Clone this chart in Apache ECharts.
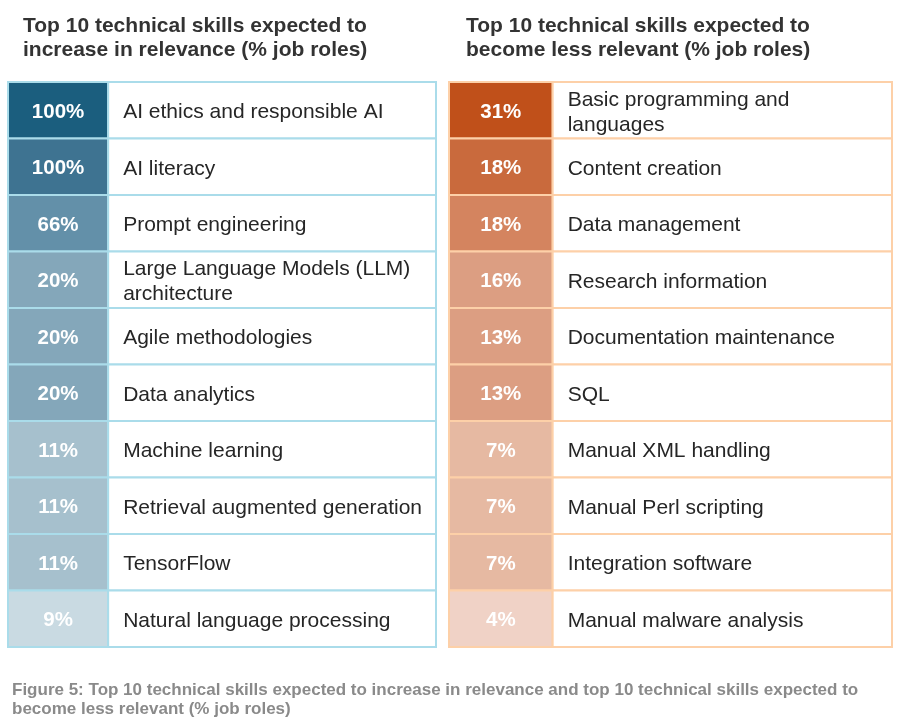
<!DOCTYPE html>
<html>
<head>
<meta charset="utf-8">
<script src="https://cdn.jsdelivr.net/npm/echarts@6/dist/echarts.min.js"></script>
<style>
html,body{margin:0;padding:0;background:#fff;}
#chart{width:908px;height:722px;}
</style>
</head>
<body>
<div id="chart"></div>
<script>
// ---- Data ----
const increaseSkills = [
  "AI ethics and responsible AI",
  "AI literacy",
  "Prompt engineering",
  "Large Language Models (LLM)\narchitecture",
  "Agile methodologies",
  "Data analytics",
  "Machine learning",
  "Retrieval augmented generation",
  "TensorFlow",
  "Natural language processing"
];
const increaseValues = [100, 100, 66, 20, 20, 20, 11, 11, 11, 9];

const decreaseSkills = [
  "Basic programming and\nlanguages",
  "Content creation",
  "Data management",
  "Research information",
  "Documentation maintenance",
  "SQL",
  "Manual XML handling",
  "Manual Perl scripting",
  "Integration software",
  "Manual malware analysis"
];
const decreaseValues = [31, 18, 18, 16, 13, 13, 7, 7, 7, 4];

// ---- Styles ----
const increaseColors = ["#1b5e7e","#3e7391","#6390a9","#84a7ba","#84a7ba","#84a7ba","#a6c0cd","#a6c0cd","#a6c0cd","#c9dae2"];
const decreaseColors = ["#c0501a","#c96a3d","#d4845f","#dc9e82","#dc9e82","#dc9e82","#e6b9a2","#e6b9a2","#e6b9a2","#f0d2c6"];
const increaseBorder = "#aadcea";
const decreaseBorder = "#fdd0a8";
const FONT = "'Liberation Sans', Arial, Helvetica, sans-serif";
const VALUE_COL = 23.4; // share of table width taken by value column (in x-axis units, 0..100)

function makeRender(labels, colors, border) {
  return function (params, api) {
    const idx = api.value(0);
    const val = api.value(1);
    const start = api.coord([0, idx]);
    const split = api.coord([VALUE_COL, idx]);
    const end = api.coord([100, idx]);
    const h = api.size([0, 1])[1];
    const top = start[1] - h / 2;
    return {
      type: 'group',
      children: [
        {
          type: 'rect',
          shape: { x: start[0], y: top, width: split[0] - start[0], height: h },
          style: { fill: colors[params.dataIndex], stroke: border, lineWidth: 2 }
        },
        {
          type: 'rect',
          shape: { x: split[0], y: top, width: end[0] - split[0], height: h },
          style: { fill: '#ffffff', stroke: border, lineWidth: 2 }
        },
        {
          type: 'text',
          x: (start[0] + split[0]) / 2,
          y: start[1] + 2,
          style: {
            text: val + '%',
            fill: '#ffffff',
            font: 'bold 20.5px ' + FONT,
            align: 'center',
            verticalAlign: 'middle'
          }
        },
        {
          type: 'text',
          x: split[0] + 15,
          y: start[1] + 2,
          style: {
            text: labels[params.dataIndex],
            fill: '#262626',
            font: '21px ' + FONT,
            lineHeight: 25,
            align: 'left',
            verticalAlign: 'middle'
          }
        }
      ]
    };
  };
}

const rowIdx = increaseSkills.map((_, i) => i);

const chart = echarts.init(document.getElementById('chart'), null, { renderer: 'canvas' });
chart.setOption({
  backgroundColor: '#ffffff',
  animation: false,
  title: [
    {
      text: 'Top 10 technical skills expected to\nincrease in relevance (% job roles)',
      left: 23, top: 14, padding: 0,
      textStyle: { fontFamily: FONT, fontSize: 21, fontWeight: 'bold', color: '#333333', lineHeight: 24 }
    },
    {
      text: 'Top 10 technical skills expected to\nbecome less relevant (% job roles)',
      left: 466, top: 14, padding: 0,
      textStyle: { fontFamily: FONT, fontSize: 21, fontWeight: 'bold', color: '#333333', lineHeight: 24 }
    },
    {
      text: 'Figure 5: Top 10 technical skills expected to increase in relevance and top 10 technical skills expected to\nbecome less relevant (% job roles)',
      left: 12, top: 681, padding: 0,
      textStyle: { fontFamily: FONT, fontSize: 17, fontWeight: 'bold', color: '#8a8a8a', lineHeight: 19 }
    }
  ],
  grid: [
    { left: 8, top: 82, width: 428, height: 565 },
    { left: 449, top: 82, width: 443, height: 565 }
  ],
  xAxis: [
    { type: 'value', gridIndex: 0, min: 0, max: 100, show: false },
    { type: 'value', gridIndex: 1, min: 0, max: 100, show: false }
  ],
  yAxis: [
    { type: 'category', gridIndex: 0, data: rowIdx, inverse: true, show: false },
    { type: 'category', gridIndex: 1, data: rowIdx, inverse: true, show: false }
  ],
  series: [
    {
      type: 'custom',
      xAxisIndex: 0, yAxisIndex: 0,
      renderItem: makeRender(increaseSkills, increaseColors, increaseBorder),
      encode: { x: -1, y: 0 },
      data: increaseValues.map((v, i) => [i, v])
    },
    {
      type: 'custom',
      xAxisIndex: 1, yAxisIndex: 1,
      renderItem: makeRender(decreaseSkills, decreaseColors, decreaseBorder),
      encode: { x: -1, y: 0 },
      data: decreaseValues.map((v, i) => [i, v])
    }
  ]
});
</script>
</body>
</html>
